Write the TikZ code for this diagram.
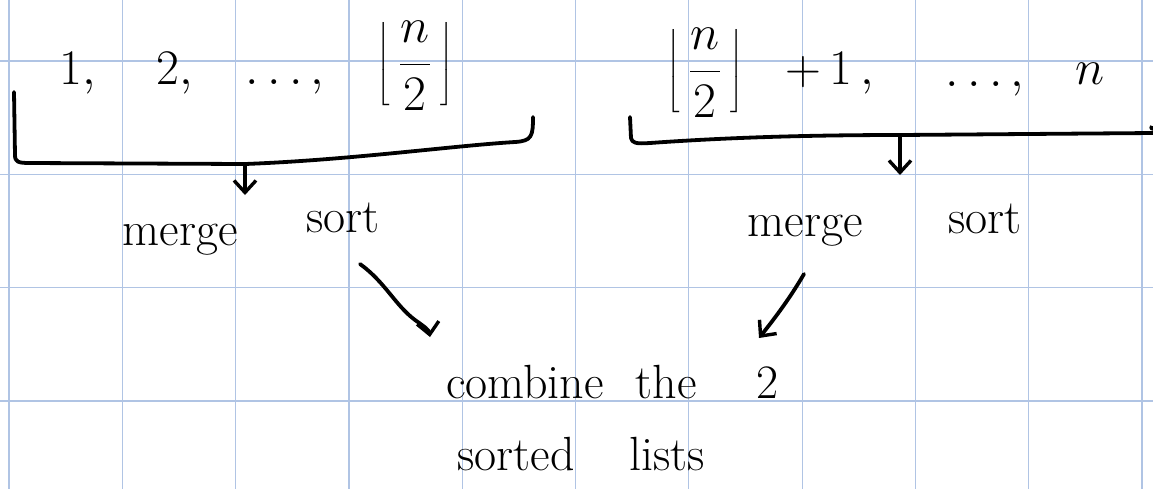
\documentclass[tikz,border=0pt]{standalone}
\usetikzlibrary{arrows.meta}
\definecolor{gridblue}{RGB}{176,196,228}
\begin{document}
\begin{tikzpicture}[x=0.5pt,y=-0.5pt,
  ink/.style={line width=1.9pt, line cap=round, line join=round},
  arr/.style={ink,-{Straight Barb[length=6pt,width=11pt,line width=1.7pt]}},
  word/.style={font=\fontsize{24}{28}\selectfont, anchor=base, inner sep=0pt},
  lst/.style={word, font=\fontsize{28}{32}\selectfont},
  mth/.style={font=\fontsize{31}{36}\selectfont, anchor=center, inner sep=0pt},
  gridline/.style={gridblue,line width=0.6pt}]
\useasboundingbox (0,0) rectangle (1153,489);
\fill[white] (0,0) rectangle (1153,489);
\foreach \i in {0,...,10} \draw[gridline] ({9+113.3*\i},0) -- ({9+113.3*\i},489);
\foreach \j in {0,...,3} \draw[gridline] (0,{61+113.3*\j}) -- (1153,{61+113.3*\j});

% left list
\node[lst] (a1) at (78,84) {$1,$};
\node[lst] (a2) at (175,84) {$2,$};
\node[lst] (a3) at (285,84) {$\ldots,$};
\node[mth] (a4) at (415,66) {$\left\lfloor\,\displaystyle\frac{n}{2}\,\right\rfloor$};

% right list
\node[mth] (b1) at (705,73) {$\left\lfloor\,\displaystyle\frac{n}{2}\,\right\rfloor$};
\node[lst] (b2) at (830,84) {$+\,1\,,$};
\node[lst] (b3) at (985,86) {$\ldots,$};
\node[lst] (b4) at (1090,84) {$n$};

% left bracket
\coordinate (lA) at (14,92);
\coordinate (lB) at (245,164);
\coordinate (lC) at (533,117);
\draw[ink] (lA) -- (15,155) .. controls (15,162) and (18,163) .. (30,163) -- (lB)
  .. controls (350,160) and (450,146) .. (515,142) .. controls (532,141) and (533,136) .. (lC);
\coordinate (lD) at (245,195);
\draw[arr] (lB) -- (lD);

% right bracket
\coordinate (rA) at (630,117);
\coordinate (rB) at (900,135);
\coordinate (rC) at (1153,133);
\draw[ink] (rA) -- (631,138) .. controls (632,143) and (636,144) .. (650,143)
  .. controls (720,138) and (800,135) .. (rB) -- (rC);
\draw[ink] (1151,127) -- (1152,129);
\coordinate (rD) at (900,175);
\draw[arr] (rB) -- (rD);

% merge sort labels
\node[word] (m1) at (180,245) {merge};
\node[word] (s1) at (343,232) {sort};
\node[word] (m2) at (805,236) {merge};
\node[word] (s2) at (985,233) {sort};

% arrows to combine
\coordinate (c1s) at (360,264);
\coordinate (c1e) at (430,337);
\draw[arr] (c1s) .. controls (385,282) and (395,305) .. (415,320) .. controls (425,327) and (429,330) .. (c1e);
\coordinate (c2s) at (804,274);
\coordinate (c2e) at (759,338);
\draw[arr] (c2s) .. controls (790,298) and (775,318) .. (c2e);

% combine text
\node[word] (w1) at (525,398) {combine};
\node[word] (w2) at (666,398) {the};
\node[word] (w3) at (768,398) {2};
\node[word] (w4) at (516,470) {sorted};
\node[word] (w5) at (667,470) {lists};
\end{tikzpicture}
\end{document}
